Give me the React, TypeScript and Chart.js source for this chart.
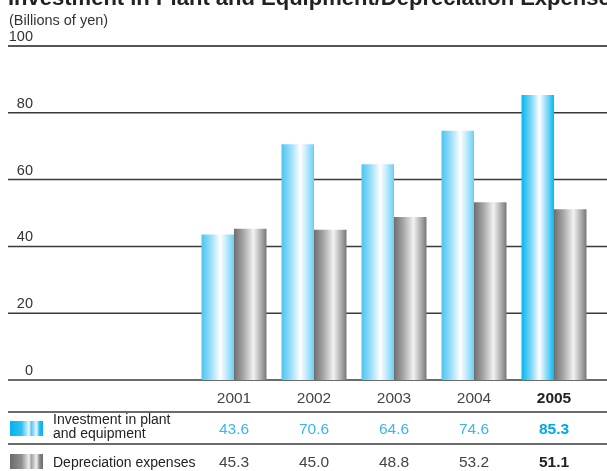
import React, { useEffect, useRef } from "react";
import { Chart, registerables } from "chart.js";

Chart.register(...registerables);

const title = "Investment in Plant and Equipment/Depreciation Expenses";
const unitLabel = "(Billions of yen)";
const years = ["2001", "2002", "2003", "2004", "2005"];
const investment = [43.6, 70.6, 64.6, 74.6, 85.3];
const depreciation = [45.3, 45.0, 48.8, 53.2, 51.1];
const yTicks = [0, 20, 40, 60, 80, 100];
const investmentLabel = ["Investment in plant", "and equipment"];
const depreciationLabel = "Depreciation expenses";

const FONT = "'Liberation Sans', Arial, Helvetica, sans-serif";

function makeGrad(ctx: CanvasRenderingContext2D, x0: number, x1: number, stops: [number, string][]) {
  const g = ctx.createLinearGradient(x0, 0, x1, 0);
  stops.forEach(([o, c]) => g.addColorStop(o, c));
  return g;
}

const blueStops: [number, string][] = [
  [0, "#4cc5f1"],
  [0.3, "#9edff8"],
  [0.58, "#ffffff"],
  [0.8, "#b5e7fa"],
  [1, "#6bcff4"],
];
const blueStrongStops: [number, string][] = [
  [0, "#00b8f1"],
  [0.3, "#7fd6f7"],
  [0.55, "#ffffff"],
  [0.8, "#7fd6f7"],
  [1, "#00baf2"],
];
const grayStops: [number, string][] = [
  [0, "#6e6e6e"],
  [0.3, "#a9a9a9"],
  [0.6, "#f2f2f2"],
  [0.82, "#b0b0b0"],
  [1, "#777777"],
];

function barBg(which: "inv" | "dep") {
  return (c: any) => {
    const chart = c.chart;
    const xs = chart.scales?.x;
    const fallback = which === "inv" ? "#4cc5f1" : "#888";
    if (!xs || c.dataIndex === undefined) return fallback;
    const center = xs.getPixelForValue(c.dataIndex);
    const w = (xs.width / years.length) * 0.8125 / 2;
    if (!isFinite(center) || !isFinite(w) || w <= 0) return fallback;
    const x0 = which === "inv" ? center - w : center;
    const x1 = x0 + w;
    const stops = which === "dep" ? grayStops : c.dataIndex === years.length - 1 ? blueStrongStops : blueStops;
    return makeGrad(chart.ctx, x0, x1, stops);
  };
}

const gridPlugin = {
  id: "gridPlugin",
  beforeDatasetsDraw(chart: any) {
    const ctx = chart.ctx as CanvasRenderingContext2D;
    const ys = chart.scales.y;
    ctx.save();
    yTicks.forEach((t) => {
      const y = ys.getPixelForValue(t);
      ctx.beginPath();
      ctx.strokeStyle = t === 100 ? "#555" : "#3a3a3a";
      ctx.lineWidth = t === 100 ? 2 : 1.5;
      ctx.moveTo(8, y);
      ctx.lineTo(chart.width, y);
      ctx.stroke();
      ctx.fillStyle = "#333";
      ctx.font = `14.5px ${FONT}`;
      ctx.textAlign = "right";
      ctx.textBaseline = "alphabetic";
      ctx.fillText(String(t), 33, y - 5);
    });
    ctx.restore();
  },
  afterDraw(chart: any) {
    const ctx = chart.ctx as CanvasRenderingContext2D;
    const xs = chart.scales.x;
    const W = chart.width;
    ctx.save();
    ctx.fillStyle = "#222";
    ctx.font = `bold 22px ${FONT}`;
    ctx.textAlign = "left";
    ctx.textBaseline = "alphabetic";
    ctx.fillText(title, 8, 5);
    ctx.font = `14.5px ${FONT}`;
    ctx.fillStyle = "#333";
    ctx.fillText(unitLabel, 9, 25);

    ctx.strokeStyle = "#3a3a3a";
    ctx.lineWidth = 1.5;
    [412, 444].forEach((y) => {
      ctx.beginPath();
      ctx.moveTo(8, y);
      ctx.lineTo(W, y);
      ctx.stroke();
    });

    ctx.textAlign = "center";
    ctx.textBaseline = "alphabetic";
    years.forEach((yr, i) => {
      const x = xs.getPixelForValue(i);
      const last = i === years.length - 1;
      ctx.font = `${last ? "bold " : ""}15.5px ${FONT}`;
      ctx.fillStyle = last ? "#222" : "#444";
      ctx.fillText(yr, x, 403);
      ctx.fillStyle = last ? "#00a8e8" : "#36b8ef";
      ctx.fillText(investment[i].toFixed(1), x, 434);
      ctx.fillStyle = last ? "#222" : "#444";
      ctx.fillText(depreciation[i].toFixed(1), x, 467);
    });

    const sw = (y: number, stops: [number, string][]) => {
      ctx.fillStyle = makeGrad(ctx, 10, 43, stops);
      ctx.fillRect(10, y, 33, 15);
    };
    sw(421, [
      [0, "#00b4f0"],
      [0.35, "#30c0f2"],
      [0.58, "#eef9fe"],
      [0.64, "#4ec7f3"],
      [0.8, "#e8f7fd"],
      [0.9, "#20bbf1"],
      [1, "#00b4f0"],
    ]);
    sw(454, [
      [0, "#6a6a6a"],
      [0.35, "#8f8f8f"],
      [0.58, "#eeeeee"],
      [0.64, "#a0a0a0"],
      [0.8, "#eeeeee"],
      [0.9, "#8a8a8a"],
      [1, "#6a6a6a"],
    ]);
    ctx.textAlign = "left";
    ctx.fillStyle = "#222";
    ctx.font = `14px ${FONT}`;
    ctx.fillText(investmentLabel[0], 53, 424);
    ctx.fillText(investmentLabel[1], 53, 438);
    ctx.fillText(depreciationLabel, 53, 467);
    ctx.restore();
  },
};

export default function App() {
  const ref = useRef<HTMLCanvasElement>(null);
  useEffect(() => {
    document.body.style.margin = "0";
    document.body.style.overflow = "hidden";
    const chart = new Chart(ref.current!, {
      type: "bar",
      data: {
        labels: years,
        datasets: [
          { label: investmentLabel.join(" "), data: investment, backgroundColor: barBg("inv") as any, borderWidth: 0 },
          { label: depreciationLabel, data: depreciation, backgroundColor: barBg("dep") as any, borderWidth: 0 },
        ],
      },
      options: {
        animation: false,
        responsive: true,
        maintainAspectRatio: false,
        layout: { padding: { left: 194, right: 13, top: 46, bottom: 91 } },
        datasets: { bar: { barPercentage: 1, categoryPercentage: 0.8125 } },
        scales: {
          x: { display: false },
          y: { display: false, min: 0, max: 100 },
        },
        plugins: { legend: { display: false }, tooltip: { enabled: false }, title: { display: false } },
      },
      plugins: [gridPlugin],
    });
    return () => chart.destroy();
  }, []);
  return (
    <div style={{ position: "fixed", left: 0, top: 0, width: 607, height: 471 }}>
      <canvas ref={ref} />
    </div>
  );
}
